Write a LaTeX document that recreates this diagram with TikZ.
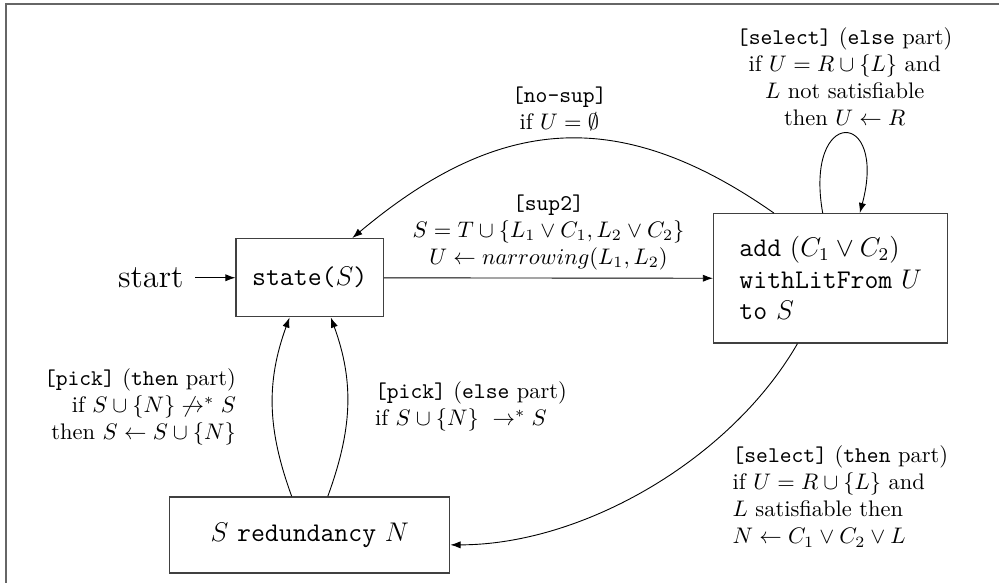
\documentclass[tikz,border=0pt]{standalone}
\usetikzlibrary{arrows.meta,positioning}
\begin{document}
\begin{tikzpicture}[>={Latex[length=4.5pt,width=3.2pt]},
    box/.style={draw=black!75,line width=0.6pt,font=\large}]
    \useasboundingbox (0,0) rectangle (15.61,9.11);
    \draw[black!60,line width=0.9pt] (15.61,9.05) -- (0.094,9.05) -- (0.094,0);

    \node[box,minimum width=2.3cm,minimum height=1.22cm] (state) at (4.84,4.77) {\texttt{state(}$S$\texttt{)}};
    \node[font=\Large,anchor=east,inner sep=5pt] (start) at (3.05,4.77) {start};
    \node[box,anchor=west,align=left,inner xsep=11.5pt,minimum height=2.02cm] (add) at (11.14,4.76)
        {\texttt{add} $(C_1 \vee C_2)$\\ \texttt{withLitFrom} $U$\\ \texttt{to} $S$};
    \node[box,minimum width=4.375cm,minimum height=1.19cm] (red) at (4.84,0.75) {$S$ \texttt{redundancy} $N$};

    \draw[->] (start) -- (state);
    \draw[->] (state) -- node[above,align=center] {\texttt{[sup2]}\\ $S = T \cup \{L_1 \vee C_1, L_2 \vee C_2\}$\\ $U \leftarrow narrowing(L_1, L_2)$} (add);
    \draw[->] (add.131) to[out=145,in=40,looseness=1.15]
        node[above,align=center] {\texttt{[no-sup]}\\ if $U = \emptyset$} (state.43);
    \draw[->] (add.97) to[out=100,in=75,looseness=7.5]
        node[above,align=center] {\texttt{[select]} (\texttt{else} part)\\ if $U = R \cup \{L\}$ and\\ $L$ not satisfiable\\ then $U \leftarrow R$} (add.66);
    \draw[->] (add.-117) to[out=-120,in=0,looseness=0.85]
        node[pos=0.3,anchor=north west,xshift=0.1cm,align=left] {\texttt{[select]} (\texttt{then} part)\\ if $U = R \cup \{L\}$ and\\ $L$ satisfiable then\\ $N \leftarrow C_1 \vee C_2 \vee L$} (red.-4);
    \draw[->] (red.115) to[out=110,in=-110]
        node[left=0.45cm,align=right] {\texttt{[pick]} (\texttt{then} part)\\ if $S \cup \{N\} \not\rightarrow^* S$\\ then $S \leftarrow S \cup \{N\}$} (state.-117);
    \draw[->] (red.65) to[out=70,in=-70]
        node[right=0.31cm,align=left] {\texttt{[pick]} (\texttt{else} part)\\ if $S \cup \{N\}\ \rightarrow^* S$} (state.-62);
\end{tikzpicture}
\end{document}
